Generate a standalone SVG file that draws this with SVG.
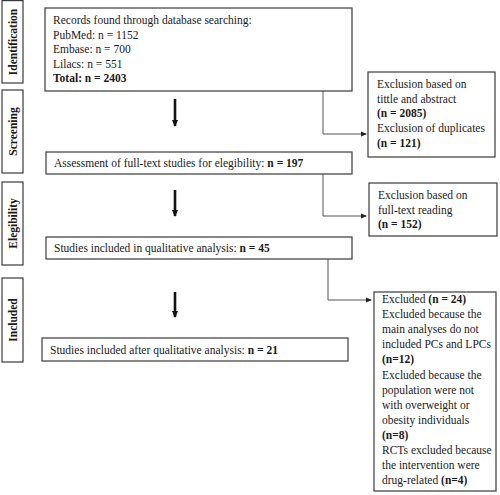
<svg xmlns="http://www.w3.org/2000/svg" width="500" height="495" viewBox="0 0 500 495">
<defs>
<style>
.box{fill:#fff;stroke:#3a3a3a;stroke-width:1.2}
.t{font-family:"Liberation Serif","Times New Roman",serif;font-size:11.5px;fill:#1a1a1a}
.b{font-weight:bold}
.side{font-family:"Liberation Serif","Times New Roman",serif;font-size:11.5px;font-weight:bold;fill:#1a1a1a}
.conn{fill:none;stroke:#555;stroke-width:1}
.thick{fill:none;stroke:#111;stroke-width:2.6}
</style>
<marker id="ah" markerWidth="6" markerHeight="6" refX="5" refY="3" orient="auto" markerUnits="userSpaceOnUse">
<path d="M0,0.5 L6,3 L0,5.5 Z" fill="#222"/>
</marker>
<marker id="ahb" markerWidth="8" markerHeight="8" refX="4" refY="7" orient="0" markerUnits="userSpaceOnUse">
<path d="M1,1 L7,1 L4,8 Z" fill="#111"/>
</marker>
</defs>
<rect width="500" height="495" fill="#fff"/>

<g id="stage-identification">
<rect class="box" x="2" y="0.6" width="21" height="82.4"/>
<text class="side" transform="translate(17,42) rotate(-90)" text-anchor="middle">Identification</text>
</g>
<g id="stage-screening">
<rect class="box" x="2" y="90" width="21" height="83"/>
<text class="side" transform="translate(17,131.5) rotate(-90)" text-anchor="middle">Screening</text>
</g>
<g id="stage-elegibility">
<rect class="box" x="2" y="182" width="21" height="83"/>
<text class="side" transform="translate(17,223.5) rotate(-90)" text-anchor="middle">Elegibility</text>
</g>
<g id="stage-included">
<rect class="box" x="2" y="278" width="21" height="84"/>
<text class="side" transform="translate(17,320) rotate(-90)" text-anchor="middle">Included</text>
</g>

<g id="connectors">
<line class="thick" x1="175" y1="99" x2="175" y2="126" marker-end="url(#ahb)"/>
<line class="thick" x1="175" y1="190" x2="175" y2="216" marker-end="url(#ahb)"/>
<line class="thick" x1="175" y1="292" x2="175" y2="317" marker-end="url(#ahb)"/>
<polyline class="conn" points="323,91 323,134 366,134" marker-end="url(#ah)"/>
<polyline class="conn" points="323,174 323,216 366,216" marker-end="url(#ah)"/>
<polyline class="conn" points="328,259 328,300 371,300" marker-end="url(#ah)"/>
</g>

<g id="records">
<rect class="box" x="45" y="8" width="307" height="83"/>
<text class="t" x="53" y="24">Records found through database searching:</text>
<text class="t" x="53" y="38.5">PubMed: n = 1152</text>
<text class="t" x="53" y="53">Embase: n = 700</text>
<text class="t" x="53" y="67.5">Lilacs: n = 551</text>
<text class="t b" x="53" y="82">Total: n = 2403</text>
</g>

<g id="exclusion-title">
<rect class="box" x="368" y="72" width="127" height="85"/>
<text class="t" x="377" y="88">Exclusion based on</text>
<text class="t" x="377" y="102.5">tittle and abstract</text>
<text class="t b" x="377" y="117">(n = 2085)</text>
<text class="t" x="377" y="132">Exclusion of duplicates</text>
<text class="t b" x="377" y="146.5">(n = 121)</text>
</g>

<g id="assessment">
<rect class="box" x="46" y="152" width="306" height="22"/>
<text class="t" x="54" y="167">Assessment of full-text studies for elegibility: <tspan class="b">n = 197</tspan></text>
</g>

<g id="exclusion-fulltext">
<rect class="box" x="369" y="183" width="128" height="53"/>
<text class="t" x="378" y="199">Exclusion based on</text>
<text class="t" x="378" y="213.5">full-text reading</text>
<text class="t b" x="378" y="228">(n = 152)</text>
</g>

<g id="qualitative">
<rect class="box" x="46" y="237" width="306" height="22"/>
<text class="t" x="54" y="252">Studies included in qualitative analysis: <tspan class="b">n = 45</tspan></text>
</g>

<g id="final">
<rect class="box" x="42" y="338" width="306" height="23"/>
<text class="t" x="50" y="354">Studies included after qualitative analysis: <tspan class="b">n = 21</tspan></text>
</g>

<g id="excluded">
<rect class="box" x="374" y="292" width="122" height="199"/>
<text class="t" x="382" y="303">Excluded <tspan class="b">(n = 24)</tspan></text>
<text class="t" x="382" y="318.1">Excluded because the</text>
<text class="t" x="382" y="333.2">main analyses do not</text>
<text class="t" x="382" y="348.3">included PCs and LPCs</text>
<text class="t b" x="382" y="363.4">(n=12)</text>
<text class="t" x="382" y="378.5">Excluded because the</text>
<text class="t" x="382" y="393.6">population were not</text>
<text class="t" x="382" y="408.7">with overweight or</text>
<text class="t" x="382" y="423.8">obesity individuals</text>
<text class="t b" x="382" y="438.9">(n=8)</text>
<text class="t" x="382" y="454">RCTs excluded because</text>
<text class="t" x="382" y="469.1">the intervention were</text>
<text class="t" x="382" y="484.2">drug-related <tspan class="b">(n=4)</tspan></text>
</g>
</svg>
